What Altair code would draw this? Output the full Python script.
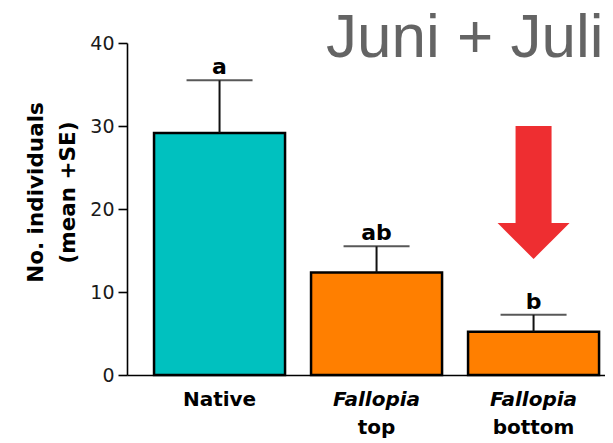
import altair as alt
import pandas as pd

# ---- data ----
title_text = ["Juni + Juli"]
categories = ["Native", "Fallopia top", "Fallopia bottom"]
label_line2 = ["", "top", "bottom"]
means = [29.15, 12.35, 5.2]
se = [6.35, 3.15, 2.05]
letters = ["a", "ab", "b"]
bar_colors = ["#00C1BF", "#FF7F00", "#FF7F00"]

# red annotation arrow (over the last bar), in data units of the y axis
arrow_category = ["Fallopia bottom"]
arrow_shaft_top = [30.0]
arrow_shaft_bottom = [18.3]
arrow_head_mid = [16.15]

df = pd.DataFrame({
    "cat": categories,
    "mean": means,
    "se": se,
    "letter": letters,
    "line2": label_line2,
})
df["upper"] = df["mean"] + df["se"]

arrow_df = pd.DataFrame({
    "cat": arrow_category,
    "top": arrow_shaft_top,
    "bottom": arrow_shaft_bottom,
    "head": arrow_head_mid,
})
title_df = pd.DataFrame({"t": title_text})

W, H = 478, 332
FONT = "DejaVu Sans"

x_scale = alt.Scale(domain=categories, paddingInner=0.1656, paddingOuter=0.105, align=0.82)
x_axis = alt.Axis(
    title=None, ticks=False, domainColor="black", domainWidth=1.6,
    labelExpr="split(datum.value, ' ')[0]",
    labelFontStyle={"condition": {"test": "datum.value !== 'Native'", "value": "italic"}, "value": "normal"},
    labelFontWeight="bold", labelFontSize=20, labelColor="black", labelFont=FONT,
    labelBaseline="alphabetic", labelPadding=30, labelAngle=0,
)
y_scale = alt.Scale(domain=[0, 40], nice=False)
y_axis = alt.Axis(
    values=[0, 10, 20, 30, 40], grid=False,
    title=["No. individuals", "(mean +SE)"],
    titleFontSize=21.5, titleFontWeight="bold", titleColor="black", titleFont=FONT,
    titleLineHeight=32, titleAngle=270, titleAlign="center", titleBaseline="alphabetic",
    titleX=-85, titleY=149,
    labelFontSize=19, labelColor="#1a1a1a", labelFont=FONT, labelPadding=4,
    tickSize=9, tickWidth=1.6, tickColor="black", domainColor="black", domainWidth=1.6,
)

X = alt.X("cat:N", sort=categories, scale=x_scale, axis=x_axis)

bars = alt.Chart(df).mark_bar(stroke="black", strokeWidth=2.5).encode(
    x=X,
    y=alt.Y("mean:Q", scale=y_scale, axis=y_axis),
    color=alt.Color("cat:N", scale=alt.Scale(domain=categories, range=bar_colors), legend=None),
)

err = alt.Chart(df).mark_rule(color="#111111", strokeWidth=2).encode(
    x=X, y=alt.Y("mean:Q", scale=y_scale, axis=y_axis), y2="upper:Q"
)

caps = alt.Chart(df).mark_tick(color="#111111", thickness=2, size=66).encode(
    x=X, y=alt.Y("upper:Q", scale=y_scale, axis=y_axis)
)

letter_text = alt.Chart(df).mark_text(
    dy=-6, baseline="alphabetic", fontWeight="bold", fontSize=22, font=FONT, color="black"
).encode(x=X, y=alt.Y("upper:Q", scale=y_scale, axis=y_axis), text="letter:N")

line2_text = alt.Chart(df).mark_text(
    baseline="alphabetic", fontWeight="bold", fontSize=20, font=FONT, color="black"
).encode(x=X, y=alt.value(H + 59), text="line2:N")

shaft = alt.Chart(arrow_df).mark_bar(color="#EE2E31", size=36).encode(
    x=X, y=alt.Y("top:Q", scale=y_scale, axis=y_axis), y2="bottom:Q"
)

head = alt.Chart(arrow_df).mark_point(
    shape="M-1,-0.5L1,-0.5L0,0.5Z", filled=True, size=72 * 72, color="#EE2E31", opacity=1, strokeWidth=0
).encode(x=X, y=alt.Y("head:Q", scale=y_scale, axis=y_axis))

title_mark = alt.Chart(title_df).mark_text(
    align="left", baseline="alphabetic", fontSize=62, font="Liberation Sans", color="#646464"
).encode(text="t:N", x=alt.value(199), y=alt.value(14))

chart = alt.layer(bars, err, caps, letter_text, line2_text, shaft, head, title_mark).properties(
    width=W, height=H,
    autosize=alt.AutoSizeParams(type="none"),
    padding={"left": 119, "top": 35, "right": 0, "bottom": 68},
).configure(background="white").configure_view(stroke=None, strokeWidth=0).configure_axis(grid=False)

chart.save("out.html", embed_options={"renderer": "svg", "actions": False})
